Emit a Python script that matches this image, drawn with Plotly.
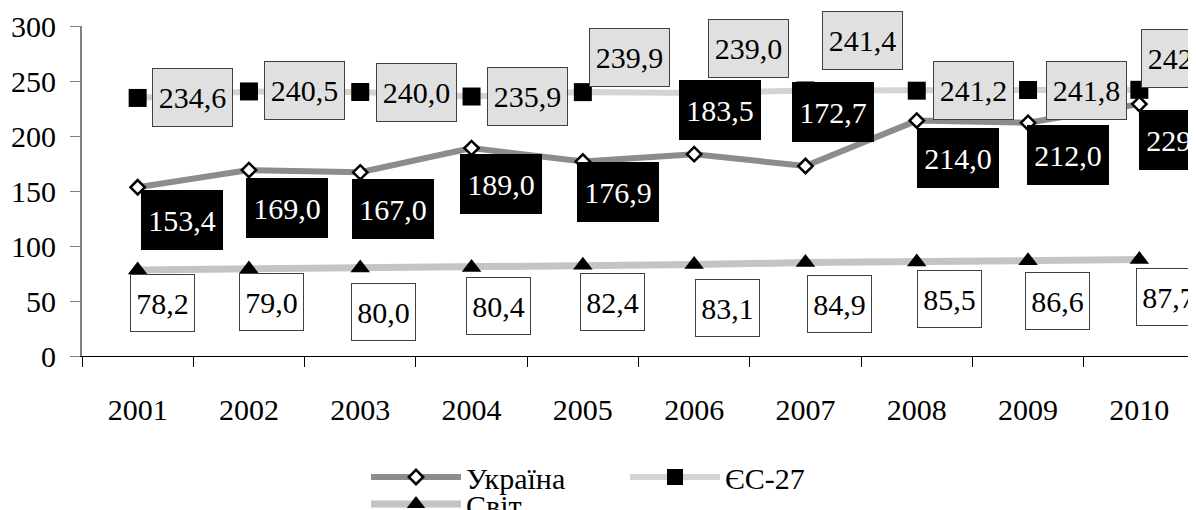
import plotly.graph_objects as go

# ---- data ----
years = ["2001", "2002", "2003", "2004", "2005", "2006", "2007", "2008", "2009", "2010"]
ukraine = [153.4, 169.0, 167.0, 189.0, 176.9, 183.5, 172.7, 214.0, 212.0, 229.0]
eu27 = [234.6, 240.5, 240.0, 235.9, 239.9, 239.0, 241.4, 241.2, 241.8, 242.0]
world = [78.2, 79.0, 80.0, 80.4, 82.4, 83.1, 84.9, 85.5, 86.6, 87.7]
series_names = ["Україна", "ЄС-27", "Світ"]

# ---- label offsets (pixels, dx right, dy down) ----
ua_off = [(44, 33), (38, 38), (33, 37), (29, 36), (35, 31), (26, -44), (28, -54), (41, 37), (40, 32), (41, 36)]
eu_off = [(55, 0), (56, -1), (56, 0), (56, 0), (47, -35), (54, -45), (57, -50), (57, 0), (58, 0), (42, -31)]
w_off = [(25, 33), (23, 33), (23, 44), (27, 38), (30, 37), (33, 43), (34, 41), (33, 37), (29, 40), (29, 37)]

FONT = "Liberation Serif"
FS = 30
OFF = 8  # page body margin offset
W, H = 1196, 510
# plot area in page pixels: left 82, right 1195, top 26, bottom 356
ML = 82 - OFF
MT = 26 - OFF
MR = W - (1195 - OFF)
MB = H - (356 - OFF)
PW, PH = W - ML - MR, H - MT - MB


def px_x(px):
    return (px - OFF - ML) / PW


def px_y(py):
    return (H - MB - (py - OFF)) / PH


def fmt(v):
    return f"{v:.1f}".replace(".", ",")


fig = go.Figure()

fig.add_trace(go.Scatter(
    x=years, y=world, name=series_names[2], mode="lines+markers",
    line=dict(color="#c4c4c4", width=7),
    marker=dict(symbol="triangle-up", size=17, color="black"),
    legend="legend3", cliponaxis=False,
))
fig.add_trace(go.Scatter(
    x=years, y=eu27, name=series_names[1], mode="lines+markers",
    line=dict(color="#d4d4d4", width=6),
    marker=dict(symbol="square", size=18, color="black"),
    legend="legend2", cliponaxis=False,
))
fig.add_trace(go.Scatter(
    x=years, y=ukraine, name=series_names[0], mode="lines+markers",
    line=dict(color="#8c8c8c", width=6),
    marker=dict(symbol="diamond", size=11, color="white", line=dict(color="black", width=2.5)),
    legend="legend", cliponaxis=False,
))

annotations = []
for i, yr in enumerate(years):
    dx, dy = eu_off[i]
    annotations.append(dict(
        x=i, y=eu27[i], xref="x", yref="y", text=fmt(eu27[i]), showarrow=False,
        xshift=dx, yshift=-dy, xanchor="center", yanchor="middle",
        font=dict(family=FONT, size=FS, color="black"),
        bgcolor="#e0e0e0", bordercolor="#404040", borderwidth=1, borderpad=1,
        width=77, height=55,
    ))
    dx, dy = ua_off[i]
    annotations.append(dict(
        x=i, y=ukraine[i], xref="x", yref="y", text=fmt(ukraine[i]), showarrow=False,
        xshift=dx, yshift=-dy, xanchor="center", yanchor="middle",
        font=dict(family=FONT, size=FS, color="white"),
        bgcolor="black", bordercolor="black", borderwidth=1, borderpad=1,
        width=78, height=56,
    ))
    dx, dy = w_off[i]
    annotations.append(dict(
        x=i, y=world[i], xref="x", yref="y", text=fmt(world[i]), showarrow=False,
        xshift=dx, yshift=-dy, xanchor="center", yanchor="middle",
        font=dict(family=FONT, size=FS, color="black"),
        bgcolor="white", bordercolor="#404040", borderwidth=1, borderpad=1,
        width=61, height=54,
    ))

legend_common = dict(
    orientation="v", xref="paper", yref="paper", xanchor="left", yanchor="middle",
    font=dict(family=FONT, size=FS, color="black"), bgcolor="rgba(0,0,0,0)",
    borderwidth=0, itemwidth=90, tracegroupgap=0,
)

fig.update_layout(
    width=W, height=H,
    margin=dict(l=ML, r=MR, t=MT, b=MB, pad=0, autoexpand=False),
    paper_bgcolor="white", plot_bgcolor="white",
    font=dict(family=FONT, size=FS, color="black"),
    showlegend=True,
    legend=dict(x=px_x(366), y=px_y(477), **legend_common),
    legend2=dict(x=px_x(625), y=px_y(477), **legend_common),
    legend3=dict(x=px_x(366), y=px_y(504), **legend_common),
    xaxis=dict(
        type="category", categoryorder="array", categoryarray=years,
        range=[-0.5, len(years) - 0.5], autorange=False,
        tickson="boundaries", ticks="outside", ticklen=10, tickwidth=1, tickangle=0,
        tickcolor="black", showline=True, linecolor="black", linewidth=1,
        showgrid=False, zeroline=False, ticklabelstandoff=27,
        tickfont=dict(family=FONT, size=FS, color="black"),
    ),
    yaxis=dict(
        range=[0, 300], autorange=False, dtick=50, ticks="outside", ticklen=10, tickwidth=1,
        tickcolor="#808080", showline=True, linecolor="#808080", linewidth=2,
        showgrid=False, zeroline=False, ticklabelstandoff=8,
        tickfont=dict(family=FONT, size=FS, color="black"),
    ),
    annotations=annotations,
)

fig.write_html("out.html")
